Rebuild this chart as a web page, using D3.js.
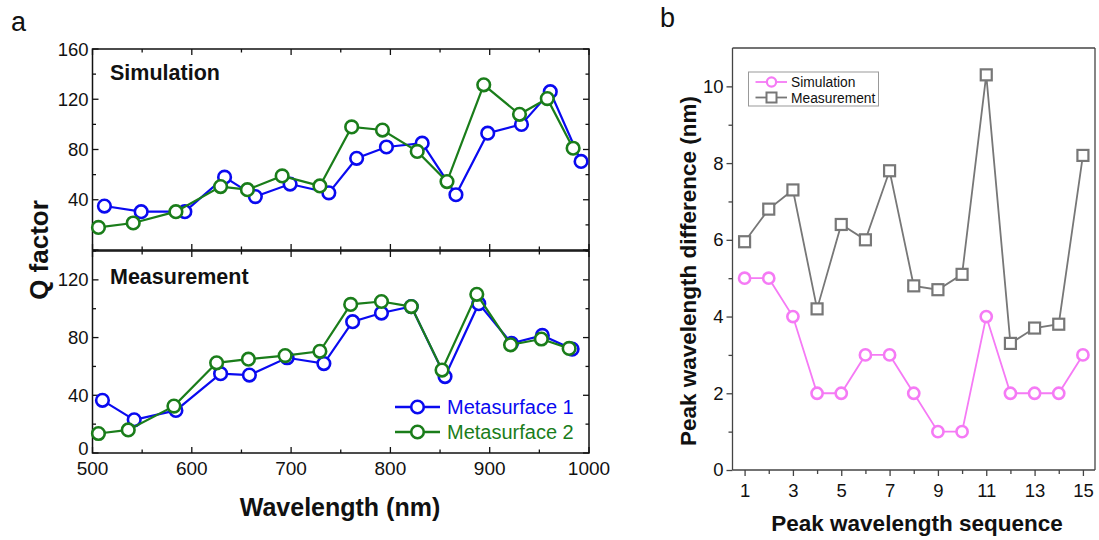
<!DOCTYPE html>
<html><head><meta charset="utf-8">
<script src="https://cdn.jsdelivr.net/npm/d3@7/dist/d3.min.js"></script>
<style>body{margin:0;background:#fff}svg{display:block;font-family:"Liberation Sans",Arial,sans-serif}</style>
</head><body>
<svg id="c" width="1099" height="540"></svg>
<script>
// ---- Panel a data ----
const simWl1 = [512,549,593,633,664,699,738,766,796,832,866,898,932,961,992];
const simQ1  = [35,30.5,30.5,58,42.5,52.5,45.5,73,82,85,44,93,100,126,70.5];
const simWl2 = [506,541,584,629,656,691,729,761,792,827,857,894,930,958,984];
const simQ2  = [18,21.5,30.5,50.5,48,59,51,98,95.5,78.5,54.5,131.5,108,120.5,81];
const meaWl1 = [510,542,584,629,658,696,733,762,791,821,855,889,922,953,983];
const meaQ1  = [36.5,23,29.5,55,54,66,62,91,97,101.5,53,103.5,76,81.5,72];
const meaWl2 = [506,536,582,625,657,694,729,760,791,821,852,887,921,952,980];
const meaQ2  = [13.5,16,32.5,62.5,65,67.5,70.5,103,105,101.5,57.5,110,75,79,72.5];
const seriesNames = ["Metasurface 1","Metasurface 2"];
const xTicksA = [500,600,700,800,900,1000];
const yTicksTop = [40,80,120,160];
const yTicksBot = [0,40,80,120];
// ---- Panel b data ----
const seq = [1,2,3,4,5,6,7,8,9,10,11,12,13,14,15];
const diffSim = [5,5,4,2,2,3,3,2,1,1,4,2,2,2,3];
const diffMea = [5.95,6.8,7.3,4.2,6.4,6.0,7.8,4.8,4.7,5.1,10.3,3.3,3.7,3.8,8.2];
const bNames = ["Simulation","Measurement"];
const xTicksB = [1,3,5,7,9,11,13,15];
const yTicksB = [0,2,4,6,8,10];

const BLUE="#0a0af0", GREEN="#1a7d1a", PINK="#f57af5", GRAY="#777777";
const svg = d3.select("#c");
const TICKFS = 18.5;

// ---------- Panel a ----------
const L=92.5, R=589;
const x = d3.scaleLinear().domain([500,1000]).range([L,R]);
const yT = d3.scaleLinear().domain([0,160]).range([250,49]);
const yB = d3.scaleLinear().domain([0,140]).range([453,251]);

function panelBox(ys, top, bottom){
  const g = svg.append("g");
  g.append("rect").attr("x",L).attr("y",top).attr("width",R-L).attr("height",bottom-top)
    .attr("fill","none").attr("stroke","#111").attr("stroke-width",1.5);
  const majX=d3.range(500,1001,100), minX=d3.range(550,1000,100);
  majX.forEach(v=>{
    g.append("line").attr("x1",x(v)).attr("x2",x(v)).attr("y1",bottom).attr("y2",bottom-6).attr("stroke","#111").attr("stroke-width",1.3);
    g.append("line").attr("x1",x(v)).attr("x2",x(v)).attr("y1",top).attr("y2",top+6).attr("stroke","#111").attr("stroke-width",1.3);
  });
  minX.forEach(v=>{
    g.append("line").attr("x1",x(v)).attr("x2",x(v)).attr("y1",bottom).attr("y2",bottom-3.5).attr("stroke","#111").attr("stroke-width",1.3);
    g.append("line").attr("x1",x(v)).attr("x2",x(v)).attr("y1",top).attr("y2",top+3.5).attr("stroke","#111").attr("stroke-width",1.3);
  });
  const [d0,d1]=ys.domain();
  for(let v=d0; v<=d1; v+=20){
    const maj = v%40===0, len = maj?6:3.5;
    if(ys(v)<top-0.5 || ys(v)>bottom+0.5) continue;
    g.append("line").attr("x1",L).attr("x2",L+len).attr("y1",ys(v)).attr("y2",ys(v)).attr("stroke","#111").attr("stroke-width",1.3);
    g.append("line").attr("x1",R).attr("x2",R-len).attr("y1",ys(v)).attr("y2",ys(v)).attr("stroke","#111").attr("stroke-width",1.3);
  }
}
panelBox(yT,49,250);
panelBox(yB,251,453);

yTicksTop.forEach(v=>svg.append("text").attr("x",L-4).attr("y",yT(v)+6.5).attr("text-anchor","end").attr("font-size",TICKFS).attr("fill","#111").text(v));
yTicksBot.forEach(v=>svg.append("text").attr("x",L-4).attr("y",yB(v)+ (v===0?2:6.5)).attr("text-anchor","end").attr("font-size",TICKFS).attr("fill","#111").text(v));
xTicksA.forEach(v=>svg.append("text").attr("x",x(v)).attr("y",475).attr("text-anchor","middle").attr("font-size",TICKFS+0.5).attr("fill","#111").text(v));

svg.append("text").attr("x",110).attr("y",80).attr("font-size",21.5).attr("font-weight","bold").attr("fill","#111").text("Simulation");
svg.append("text").attr("x",110).attr("y",284).attr("font-size",21.5).attr("font-weight","bold").attr("fill","#111").text("Measurement");
svg.append("text").attr("transform","translate(48,250) rotate(-90)").attr("text-anchor","middle").attr("font-size",26).attr("font-weight","bold").attr("fill","#111").text("Q factor");
svg.append("text").attr("x",340).attr("y",516).attr("text-anchor","middle").attr("font-size",25).attr("font-weight","bold").attr("fill","#111").text("Wavelength (nm)");
svg.append("text").attr("x",11).attr("y",31).attr("font-size",27).attr("fill","#111").text("a");

function drawSeries(xs, ys, yscale, color){
  const pts = xs.map((v,i)=>[x(v), yscale(ys[i])]);
  svg.append("path").attr("d",d3.line()(pts)).attr("fill","none").attr("stroke",color).attr("stroke-width",2.2);
  svg.append("g").selectAll("circle").data(pts).join("circle")
    .attr("cx",d=>d[0]).attr("cy",d=>d[1]).attr("r",6.3)
    .attr("fill","#fff").attr("stroke",color).attr("stroke-width",2.6);
}
drawSeries(simWl1, simQ1, yT, BLUE);
drawSeries(simWl2, simQ2, yT, GREEN);
drawSeries(meaWl1, meaQ1, yB, BLUE);
drawSeries(meaWl2, meaQ2, yB, GREEN);

[[BLUE,407],[GREEN,432]].forEach(([c,yy],i)=>{
  svg.append("line").attr("x1",395).attr("x2",440).attr("y1",yy).attr("y2",yy).attr("stroke",c).attr("stroke-width",2.4);
  svg.append("circle").attr("cx",417.5).attr("cy",yy).attr("r",6.3).attr("fill","#fff").attr("stroke",c).attr("stroke-width",2.6);
  svg.append("text").attr("x",447).attr("y",yy+7).attr("font-size",20).attr("fill",c).text(seriesNames[i]);
});

// ---------- Panel b ----------
const BL=732.5, BR=1095, BT=48, BB=470;
const xb = d3.scaleLinear().domain([0.5,15.5]).range([BL,BR]);
const yb = d3.scaleLinear().domain([0,11]).range([BB,BT]);
const AX="#444";
svg.append("line").attr("x1",BL).attr("x2",BR).attr("y1",BT).attr("y2",BT).attr("stroke",AX).attr("stroke-width",1.3);
svg.append("line").attr("x1",BR).attr("x2",BR).attr("y1",BT).attr("y2",BB).attr("stroke",AX).attr("stroke-width",1.3);
const gx = svg.append("g").attr("transform",`translate(0,${BB})`)
  .call(d3.axisBottom(xb).tickValues(seq).tickSize(6).tickFormat(d=>xTicksB.includes(d)?d:""));
gx.selectAll("line").attr("stroke",AX).attr("stroke-width",1.3).attr("y2",d=>xTicksB.includes(d)?6:4);
gx.select(".domain").attr("stroke",AX).attr("stroke-width",1.3).attr("d",`M${BL},0H${BR}`);
gx.selectAll("text").attr("font-size",TICKFS).attr("fill","#111").attr("font-family","Liberation Sans, Arial").attr("dy","0.95em");
const gy = svg.append("g").attr("transform",`translate(${BL},0)`)
  .call(d3.axisLeft(yb).tickValues(d3.range(0,11)).tickSize(6).tickFormat(d=>yTicksB.includes(d)?d:""));
gy.selectAll("line").attr("stroke",AX).attr("stroke-width",1.3).attr("x2",d=>yTicksB.includes(d)?-6:-4);
gy.select(".domain").attr("stroke",AX).attr("stroke-width",1.3).attr("d",`M0,${BB}V${BT}`);
gy.selectAll("text").attr("font-size",TICKFS).attr("fill","#111").attr("font-family","Liberation Sans, Arial").attr("x",-9);

svg.append("text").attr("transform","translate(696,271) rotate(-90)").attr("text-anchor","middle").attr("font-size",22.5).attr("font-weight","bold").attr("fill","#111").text("Peak wavelength difference (nm)");
svg.append("text").attr("x",917).attr("y",531).attr("text-anchor","middle").attr("font-size",22.5).attr("font-weight","bold").attr("fill","#111").text("Peak wavelength sequence");
svg.append("text").attr("x",660).attr("y",27).attr("font-size",27).attr("fill","#111").text("b");

const ptsS = seq.map((s,i)=>[xb(s), yb(diffSim[i])]);
const ptsM = seq.map((s,i)=>[xb(s), yb(diffMea[i])]);
svg.append("path").attr("d",d3.line()(ptsM)).attr("fill","none").attr("stroke",GRAY).attr("stroke-width",1.8);
svg.append("g").selectAll("rect").data(ptsM).join("rect")
  .attr("x",d=>d[0]-5.5).attr("y",d=>d[1]-5.5).attr("width",11).attr("height",11)
  .attr("fill","#fff").attr("stroke",GRAY).attr("stroke-width",2.2);
svg.append("path").attr("d",d3.line()(ptsS)).attr("fill","none").attr("stroke",PINK).attr("stroke-width",1.8);
svg.append("g").selectAll("circle").data(ptsS).join("circle")
  .attr("cx",d=>d[0]).attr("cy",d=>d[1]).attr("r",5.6)
  .attr("fill","#fff").attr("stroke",PINK).attr("stroke-width",2.6);

svg.append("rect").attr("x",748.5).attr("y",72).attr("width",130).attr("height",34).attr("fill","#fff").attr("stroke","#999").attr("stroke-width",1);
[[PINK,82,"c"],[GRAY,97.5,"s"]].forEach(([c,yy,m],i)=>{
  svg.append("line").attr("x1",755.5).attr("x2",787).attr("y1",yy).attr("y2",yy).attr("stroke",c).attr("stroke-width",1.8);
  if(m==="c") svg.append("circle").attr("cx",771.5).attr("cy",yy).attr("r",4.6).attr("fill","#fff").attr("stroke",c).attr("stroke-width",2.2);
  else svg.append("rect").attr("x",766.5).attr("y",yy-5).attr("width",10).attr("height",10).attr("fill","#fff").attr("stroke",c).attr("stroke-width",2);
  svg.append("text").attr("x",791).attr("y",yy+5).attr("font-size",13.8).attr("fill","#111").text(bNames[i]);
});
</script>
</body></html>
